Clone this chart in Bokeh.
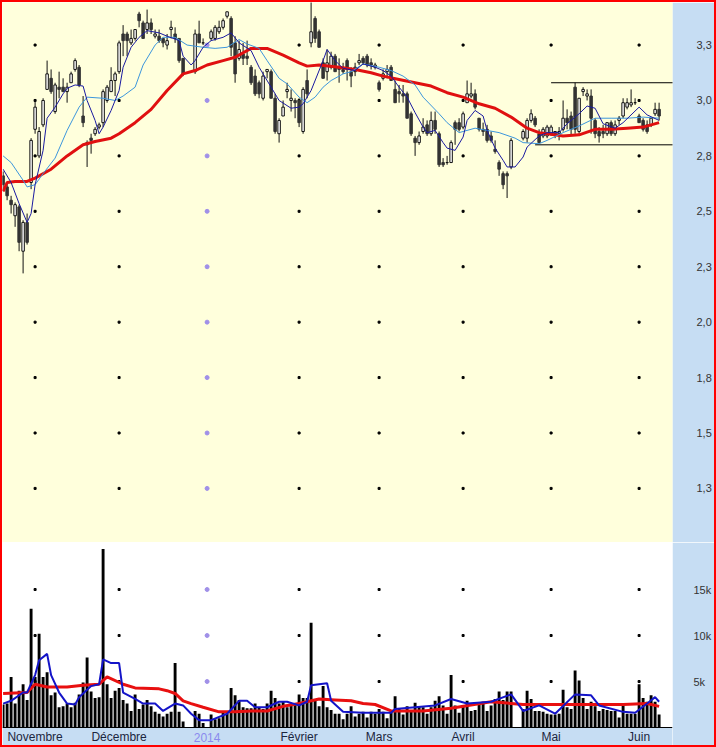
import pandas as pd
from bokeh.plotting import figure
from bokeh.layouts import column
from bokeh.models import Range1d, FixedTicker, ColumnDataSource, Label, LinearAxis, BoxAnnotation
from bokeh.embed import file_html
from bokeh.resources import INLINE

# ---------------- data ----------------
dates = pd.bdate_range("2013-10-22", periods=165)   # one slot per weekday

month_labels = ["Novembre", "Décembre", "2014", "Février", "Mars", "Avril", "Mai", "Juin"]

N = None
opens = [2.66, 2.61, 2.55, 2.48, 2.52, 2.32, 2.45, 2.63, 2.87, 2.75, 2.89, 3.05, 3.10, 2.95, 3.06, 3.06, 3.04, 3.08, 3.14, 3.15,
         2.93, 2.81, 2.83, 2.85, 2.88, 2.90, 3.00, 3.04, 3.09, 3.13, 3.30, 3.30, 3.26, 3.28, 3.39, 3.35, 3.32, 3.35, 3.29, 3.29,
         3.28, 3.25, 3.32, 3.30, 3.28, 3.19, N, N, 3.13, 3.30, 3.26, N, 3.28, 3.28, 3.31, 3.33, 3.38, 3.37, 3.26, 3.19,
         3.21, 3.20, 3.15, 3.11, 3.08, 3.01, 3.13, 3.13, 3.01, 2.85, 2.93, 3.04, 3.00, 3.00, 3.00, 2.86, 3.09, 3.26, 3.37, 3.31,
         3.17, 3.13, 3.15, 3.20, 3.15, 3.14, 3.18, 3.13, 3.13, 3.17, 3.19, 3.20, 3.17, 3.15, 3.08, 3.10, 3.13, 3.15, 3.05, 3.04,
         3.03, 3.03, 2.94, 2.83, 2.81, 2.86, 2.89, 2.85, 2.91, 2.85, 2.72, 2.72, 2.72, 2.90, 2.90, 2.88, 2.99, 3.02, 3.03, 2.92,
         2.87, 2.87, 2.84, 2.78, 2.72, 2.67, 2.67, 2.70, N, N, 2.83, 2.83, 2.91, 2.92, 2.85, 2.84, 2.84, 2.85, 2.85, 2.85,
         2.87, 2.92, 2.93, 3.06, 2.86, 3.04, 3.02, 3.02, 2.91, 2.86, 2.86, 2.85, 2.90, 2.85, 2.91, 2.93, 2.97, 2.98, 2.99, 2.93,
         2.91, 2.89, 2.89, 2.94, 2.96]
highs = [2.68, 2.63, 2.57, 2.54, 2.53, 2.46, 2.49, 2.83, 3.00, 2.88, 3.01, 3.18, 3.14, 3.08, 3.13, 3.10, 3.08, 3.13, 3.19, 3.16,
         3.02, 2.82, 2.85, 2.88, 2.90, 3.05, 3.07, 3.15, 3.13, 3.27, 3.34, 3.31, 3.32, 3.32, 3.40, 3.36, 3.41, 3.37, 3.32, 3.32,
         3.28, 3.30, 3.36, 3.33, 3.28, 3.19, N, N, 3.32, 3.36, 3.28, N, 3.32, 3.34, 3.36, 3.37, 3.40, 3.38, 3.29, 3.27,
         3.26, 3.27, 3.16, 3.14, 3.09, 3.13, 3.14, 3.14, 3.03, 2.92, 3.00, 3.08, 3.05, 3.01, 3.01, 3.06, 3.14, 3.45, 3.38, 3.32,
         3.19, 3.23, 3.22, 3.21, 3.19, 3.17, 3.19, 3.15, 3.17, 3.21, 3.20, 3.21, 3.19, 3.17, 3.09, 3.14, 3.16, 3.16, 3.09, 3.07,
         3.07, 3.04, 2.95, 2.84, 2.86, 2.92, 2.91, 2.95, 2.95, 2.86, 2.74, 2.75, 2.82, 2.91, 2.92, 2.95, 3.09, 3.08, 3.05, 2.92,
         2.90, 2.89, 2.86, 2.82, 2.73, 2.68, 2.68, 2.83, N, N, 2.87, 2.92, 2.96, 2.93, 2.87, 2.88, 2.89, 2.89, 2.86, 2.88,
         3.00, 2.96, 2.95, 3.08, 3.01, 3.06, 3.05, 3.05, 2.92, 2.88, 2.89, 2.90, 2.91, 2.91, 2.93, 3.01, 3.01, 3.05, 3.01, 2.94,
         2.92, 2.91, 2.92, 2.99, 2.99]
lows = [2.59, 2.55, 2.49, 2.43, 2.32, 2.22, 2.35, 2.60, 2.85, 2.74, 2.88, 3.05, 3.03, 2.94, 3.01, 3.04, 2.99, 3.08, 3.13, 3.06,
        2.88, 2.70, 2.76, 2.84, 2.87, 2.88, 2.99, 3.04, 3.02, 3.12, 3.20, 3.20, 3.25, 3.27, 3.33, 3.28, 3.30, 3.30, 3.28, 3.26,
        3.24, 3.23, 3.28, 3.26, 3.17, 3.11, N, N, 3.12, 3.26, 3.25, N, 3.27, 3.27, 3.30, 3.32, 3.37, 3.20, 3.08, 3.18,
        3.16, 3.16, 3.07, 3.02, 3.01, 3.00, 3.10, 3.01, 2.85, 2.81, 2.93, 3.01, 2.95, 2.92, 2.88, 2.85, 3.01, 3.24, 3.26, 3.24,
        3.10, 3.09, 3.14, 3.13, 3.08, 3.12, 3.09, 3.06, 3.11, 3.16, 3.16, 3.15, 3.14, 3.14, 3.04, 3.09, 3.10, 3.09, 2.99, 2.99,
        2.99, 2.92, 2.84, 2.75, 2.80, 2.85, 2.84, 2.84, 2.85, 2.70, 2.70, 2.71, 2.72, 2.80, 2.86, 2.87, 2.99, 3.01, 2.96, 2.86,
        2.84, 2.81, 2.81, 2.76, 2.66, 2.60, 2.56, 2.69, N, N, 2.82, 2.81, 2.90, 2.88, 2.81, 2.83, 2.83, 2.84, 2.83, 2.82,
        2.86, 2.87, 2.84, 2.85, 2.85, 3.02, 3.00, 2.85, 2.83, 2.81, 2.83, 2.84, 2.84, 2.84, 2.89, 2.92, 2.96, 2.97, 2.98, 2.90,
        2.86, 2.85, 2.88, 2.93, 2.91]
closes = [2.62, 2.57, 2.53, 2.53, 2.36, 2.45, 2.36, 2.82, 2.97, 2.86, 3.00, 3.12, 3.04, 3.07, 3.05, 3.04, 3.06, 3.12, 3.18, 3.07,
          2.90, 2.80, 2.82, 2.87, 2.89, 3.04, 3.06, 3.09, 3.12, 3.26, 3.27, 3.27, 3.28, 3.32, 3.36, 3.28, 3.35, 3.32, 3.30, 3.27,
          3.26, 3.27, 3.33, 3.28, 3.18, 3.12, N, N, 3.30, 3.26, 3.26, N, 3.31, 3.33, 3.33, 3.36, 3.40, 3.24, 3.12, 3.23,
          3.19, 3.19, 3.08, 3.03, 3.03, 3.11, 3.14, 3.01, 2.86, 2.91, 2.97, 3.05, 3.01, 2.99, 2.90, 3.05, 3.03, 3.31, 3.28, 3.24,
          3.10, 3.17, 3.20, 3.13, 3.14, 3.13, 3.14, 3.11, 3.15, 3.18, 3.17, 3.16, 3.16, 3.16, 3.05, 3.12, 3.14, 3.09, 2.99, 3.03,
          3.02, 2.92, 2.85, 2.81, 2.84, 2.88, 2.85, 2.91, 2.87, 2.71, 2.71, 2.72, 2.81, 2.87, 2.87, 2.94, 3.03, 3.03, 2.97, 2.87,
          2.86, 2.82, 2.82, 2.77, 2.69, 2.62, 2.66, 2.82, N, N, 2.86, 2.91, 2.94, 2.89, 2.81, 2.87, 2.88, 2.88, 2.86, 2.86,
          2.92, 2.90, 2.87, 2.87, 3.01, 3.05, 3.03, 2.92, 2.85, 2.84, 2.85, 2.90, 2.85, 2.89, 2.92, 2.99, 2.99, 2.99, 2.99, 2.90,
          2.87, 2.86, 2.92, 2.96, 2.93]

# volume, thousands of shares
volume = [2.5, 2.6, 5.5, 2.6, 4.0, 4.7, 3.0, 12.9, 5.5, 10.2, 5.5, 6.0, 3.5, 3.8, 2.2, 2.3, 2.6, 2.2, 2.7, 3.6,
          4.9, 7.6, 3.9, 3.2, 3.3, 19.4, 4.7, 3.2, 4.0, 4.3, 3.0, 2.6, 1.8, 3.6, 2.0, 2.5, 3.0, 2.3, 1.7, 1.5,
          1.2, 1.5, 1.7, 7.0, 1.7, 0.65, N, N, 1.8, 1.5, 0.5, N, 1.4, 0.9, 1.0, 1.6, 1.5, 4.3, 3.5, 3.0,
          2.2, 2.1, 2.1, 2.6, 2.2, 2.0, 2.6, 4.0, 3.2, 2.6, 2.8, 2.2, 2.6, 2.6, 3.6, 3.2, 3.2, 11.4, 2.9, 2.3,
          4.5, 2.2, 1.9, 1.5, 1.5, 0.9, 1.5, 2.3, 1.2, 1.5, 1.7, 1.1, 1.7, 1.5, 2.0, 1.7, 1.0, 1.7, 3.4, 2.0,
          1.4, 2.3, 1.8, 2.7, 2.3, 2.2, 1.5, 2.2, 2.9, 3.4, 2.4, 1.5, 5.7, 2.4, 1.6, 2.3, 2.9, 1.8, 1.9, 2.6,
          2.8, 1.8, 2.4, 3.1, 3.9, 3.0, 3.9, 3.9, N, N, 2.0, 4.0, 3.1, 1.8, 1.8, 1.7, 1.5, 1.4, 1.4, 1.5,
          4.1, 2.2, 2.0, 6.2, 5.1, 3.2, 2.0, 2.8, 2.3, 1.8, 2.0, 1.9, 1.8, 1.8, 1.1, 2.6, 1.5, 1.5, 1.5, 4.7,
          3.2, 2.8, 3.5, 2.8, 1.4]

# moving averages (slot index, value)
ma_fast_idx = [0, 2, 4, 6, 7, 8, 10, 11, 13, 15, 16, 18, 20, 21, 23, 24, 25, 27, 29, 30, 32, 34, 36, 39, 41, 44, 45, 47,
               48, 50, 52, 55, 57, 59, 62, 64, 67, 69, 72, 74, 75, 77, 80, 81, 83, 85, 88, 90, 93, 95, 97, 99, 101,
               103, 105, 106, 108, 110, 111, 113, 115, 116, 118, 120, 121, 123, 125, 126, 128, 130, 131, 134, 136,
               139, 141, 144, 146, 148, 150, 153, 155, 159, 161, 164]
ma_fast = [2.69, 2.63, 2.535, 2.45, 2.49, 2.62, 2.775, 2.92, 2.97, 3.03, 3.055, 3.07, 3.065, 3.00, 2.91, 2.85, 2.88,
           2.955, 3.045, 3.15, 3.24, 3.285, 3.315, 3.305, 3.29, 3.27, 3.20, 3.16, 3.18, 3.24, 3.27, 3.285, 3.305,
           3.26, 3.225, 3.15, 3.06, 3.00, 2.965, 2.97, 2.985, 3.045, 3.18, 3.23, 3.18, 3.145, 3.135, 3.165, 3.15,
           3.135, 3.11, 3.06, 3.015, 2.945, 2.88, 2.855, 2.865, 2.81, 2.785, 2.775, 2.835, 2.91, 2.955, 2.93,
           2.865, 2.785, 2.73, 2.70, 2.70, 2.745, 2.79, 2.84, 2.855, 2.855, 2.895, 2.94, 2.975, 2.965, 2.895,
           2.875, 2.90, 2.97, 2.935, 2.91]

ma_mid_idx = [0, 2, 5, 6, 8, 10, 13, 16, 19, 21, 25, 28, 30, 33, 35, 38, 40, 43, 46, 50, 53, 56, 59, 61, 64, 66, 69,
              71, 74, 76, 78, 80, 82, 85, 87, 90, 94, 97, 100, 103, 105, 109, 111, 114, 115, 118, 121, 124, 128,
              130, 134, 136, 140, 144, 148, 152, 156, 160, 164]
ma_mid = [2.75, 2.72, 2.64, 2.61, 2.62, 2.67, 2.74, 2.865, 2.97, 3.015, 3.01, 3.00, 3.02, 3.06, 3.16, 3.25, 3.285,
          3.285, 3.25, 3.24, 3.235, 3.24, 3.275, 3.255, 3.235, 3.18, 3.10, 3.075, 3.015, 2.99, 3.015, 3.06, 3.09,
          3.12, 3.13, 3.165, 3.15, 3.135, 3.11, 3.07, 3.015, 2.94, 2.90, 2.855, 2.86, 2.875, 2.865, 2.855, 2.83,
          2.81, 2.805, 2.82, 2.855, 2.885, 2.92, 2.92, 2.92, 2.925, 2.92]

ma_slow_idx = [0, 1, 3, 6, 8, 12, 16, 20, 23, 27, 29, 33, 37, 41, 45, 48, 51, 55, 58, 62, 66, 70, 74, 76, 79, 84, 88,
               92, 95, 99, 103, 107, 111, 115, 119, 123, 127, 131, 134, 140, 144, 148, 152, 156, 160, 164]
ma_slow = [2.59, 2.63, 2.635, 2.635, 2.65, 2.69, 2.75, 2.80, 2.815, 2.83, 2.85, 2.90, 2.96, 3.045, 3.12, 3.135, 3.16,
           3.18, 3.195, 3.235, 3.235, 3.205, 3.17, 3.155, 3.16, 3.15, 3.14, 3.125, 3.11, 3.095, 3.08, 3.065, 3.035,
           3.015, 2.985, 2.965, 2.925, 2.875, 2.855, 2.84, 2.845, 2.87, 2.87, 2.875, 2.88, 2.90]

vol_fast_idx = [0, 2, 5, 6, 8, 9, 11, 12, 14, 16, 18, 19, 22, 24, 25, 27, 29, 30, 33, 35, 38, 40, 43, 45, 47, 49, 52,
                56, 59, 61, 63, 66, 69, 71, 74, 76, 77, 81, 82, 85, 90, 97, 98, 108, 112, 116, 122, 127, 130, 134,
                138, 143, 147, 149, 155, 158, 161, 163, 164]
vol_fast = [2.6, 2.9, 3.8, 3.8, 5.7, 7.3, 8.0, 5.7, 3.8, 2.6, 2.5, 3.3, 4.5, 4.7, 7.4, 7.0, 7.0, 3.8, 3.1, 2.6, 2.6,
            1.8, 2.6, 2.4, 1.5, 0.8, 0.8, 1.5, 2.9, 2.9, 2.2, 2.2, 2.8, 2.8, 2.4, 2.8, 4.6, 4.8, 2.9, 1.7, 1.6, 1.6,
            2.0, 2.4, 3.1, 2.6, 2.8, 3.6, 1.8, 2.4, 1.5, 3.6, 3.5, 2.4, 1.7, 1.6, 2.6, 3.3, 2.8]

vol_slow_idx = [0, 6, 8, 11, 16, 20, 24, 26, 30, 33, 39, 41, 43, 45, 47, 50, 54, 58, 62, 66, 70, 74, 79, 83, 87, 90,
                93, 97, 105, 112, 122, 130, 138, 147, 155, 161, 164]
vol_slow = [3.7, 3.8, 4.7, 4.4, 4.4, 4.6, 4.7, 5.5, 4.7, 4.3, 4.2, 4.0, 3.7, 2.9, 2.6, 2.2, 1.7, 1.7, 1.8, 1.8, 2.3,
            2.6, 3.1, 3.0, 2.9, 2.6, 2.5, 1.8, 1.8, 2.1, 2.8, 2.5, 2.5, 2.5, 2.5, 2.6, 2.3]

# horizontal channel drawn on the chart
channel_levels = [3.08, 2.80]
channel_start = [137, 133]

price_ticks = [1.25, 1.5, 1.75, 2.0, 2.25, 2.5, 2.75, 3.0, 3.25]
price_tick_labels = ["1,3", "1,5", "1,8", "2,0", "2,3", "2,5", "2,8", "3,0", "3,3"]
vol_ticks = [5, 10, 15]
vol_tick_labels = ["5k", "10k", "15k"]

# ---------------- styling ----------------
YELLOW = "#FFFFDC"
BLUE_BG = "#C6DDF3"
FONT = "Liberation Sans"

month_idx = [i for i in range(1, len(dates)) if dates[i].month != dates[i - 1].month]

idx = list(range(len(dates)))
cx, cH, cL, top, bot, fill, edge = [], [], [], [], [], [], []
for i in idx:
    if opens[i] is None:
        continue
    o, h, l, c = opens[i], highs[i], lows[i], closes[i]
    cx.append(i); cH.append(h); cL.append(l)
    top.append(max(o, c)); bot.append(min(o, c))
    up = c >= o
    fill.append("#FFFFFF" if up else "#333333")
    edge.append("#111111" if up else "#333333")
candles = ColumnDataSource(dict(x=cx, high=cH, low=cL, top=top, bottom=bot, fill=fill, edge=edge))

vx = [i for i in idx if volume[i] is not None]
vv = [volume[i] for i in vx]

n_slots = 167.5
x_range = Range1d(-0.15, n_slots - 0.15)

# ---------------- price panel ----------------
p1 = figure(width=712, height=540, x_range=x_range, y_range=Range1d(1.006, 3.442),
            output_backend="svg", toolbar_location=None, x_axis_location=None,
            y_axis_location="right", min_border_left=0, min_border_top=0,
            min_border_bottom=0, min_border_right=42,
            background_fill_color=YELLOW, border_fill_color=BLUE_BG, outline_line_color=None)
p1.grid.visible = False

gx, gy, px_, py_ = [], [], [], []
for j, m in enumerate(month_idx):
    for t in price_ticks:
        if month_labels[j] == "2014":
            px_.append(m); py_.append(t)
        else:
            gx.append(m); gy.append(t)
p1.scatter(gx, gy, marker="square", size=2, color="black")
p1.scatter(px_, py_, marker="circle", size=4, color="#A090E8")

p1.segment(x0="x", y0="low", x1="x", y1="high", source=candles, line_color="#111111", line_width=1)
p1.vbar(x="x", width=0.62, top="top", bottom="bottom", source=candles,
        fill_color="fill", line_color="edge", line_width=1)

p1.line(ma_slow_idx, ma_slow, line_color="#E01010", line_width=3)
p1.line(ma_mid_idx, ma_mid, line_color="#3C96DC", line_width=1)
p1.line(ma_fast_idx, ma_fast, line_color="#1A1AA0", line_width=1)

p1.segment(x0=channel_start, y0=channel_levels, x1=[n_slots + 5] * 2, y1=channel_levels,
           line_color="black", line_width=1)

ax = p1.yaxis[0]
ax.ticker = FixedTicker(ticks=price_ticks)
ax.major_label_overrides = dict(zip(price_ticks, price_tick_labels))
ax.major_tick_out = 0
ax.major_tick_in = 0
ax.minor_tick_out = 0
ax.minor_tick_in = 0
ax.axis_line_color = None
ax.major_label_standoff = 24
ax.major_label_text_font = FONT
ax.major_label_text_font_size = "11px"
ax.major_label_text_color = "#333333"

# ---------------- volume panel (frame includes the date band) ----------------
p2 = figure(width=712, height=203, x_range=x_range, y_range=Range1d(-1.957, 20.11),
            output_backend="svg", toolbar_location=None, y_axis_location="right", x_axis_location=None,
            min_border_left=0, min_border_top=0, min_border_bottom=0, min_border_right=42,
            background_fill_color="white", border_fill_color=BLUE_BG, outline_line_color=None)
p2.grid.visible = False

# date band below the zero line
p2.add_layout(BoxAnnotation(top=0, fill_color=BLUE_BG, fill_alpha=1.0, line_color=None, level="underlay"))

vgx, vgy, vpx, vpy = [], [], [], []
for j, m in enumerate(month_idx):
    for t in vol_ticks:
        if month_labels[j] == "2014":
            vpx.append(m); vpy.append(t)
        else:
            vgx.append(m); vgy.append(t)
p2.scatter(vgx, vgy, marker="square", size=2, color="black")
p2.scatter(vpx, vpy, marker="circle", size=4, color="#A090E8")

p2.vbar(x=vx, top=vv, bottom=0, width=0.72, fill_color="black", line_color=None)
p2.line(vol_slow_idx, vol_slow, line_color="#E81010", line_width=3)
p2.line(vol_fast_idx, vol_fast, line_color="#1414C8", line_width=2)

vax = p2.yaxis[0]
vax.ticker = FixedTicker(ticks=vol_ticks)
vax.major_label_overrides = dict(zip(vol_ticks, vol_tick_labels))
vax.major_tick_out = 0
vax.major_tick_in = 0
vax.minor_tick_out = 0
vax.minor_tick_in = 0
vax.axis_line_color = None
vax.major_label_standoff = 21
vax.major_label_text_font = FONT
vax.major_label_text_font_size = "11px"
vax.major_label_text_color = "#333333"

xax = LinearAxis(fixed_location=0, ticker=FixedTicker(ticks=month_idx),
                 major_label_overrides={m: (lab if lab != "2014" else "") for m, lab in zip(month_idx, month_labels)})
xax.major_tick_out = 0
xax.major_tick_in = 0
xax.minor_tick_out = 0
xax.minor_tick_in = 0
xax.axis_line_color = "black"
xax.major_label_standoff = 3
xax.major_label_text_font = FONT
xax.major_label_text_font_size = "12px"
xax.major_label_text_color = "#1C2640"
p2.add_layout(xax, "below")

for m, lab in zip(month_idx, month_labels):
    if lab == "2014":
        p2.add_layout(Label(x=m, y=-1.1, text=lab, text_align="center",
                            text_baseline="middle", text_font=FONT, text_font_size="12px",
                            text_color="#8A8AEE"))

layout = column(p1, p2, spacing=0, styles={"border": "2px solid #FF0000"})

open("out.html", "w").write(file_html(layout, INLINE))
